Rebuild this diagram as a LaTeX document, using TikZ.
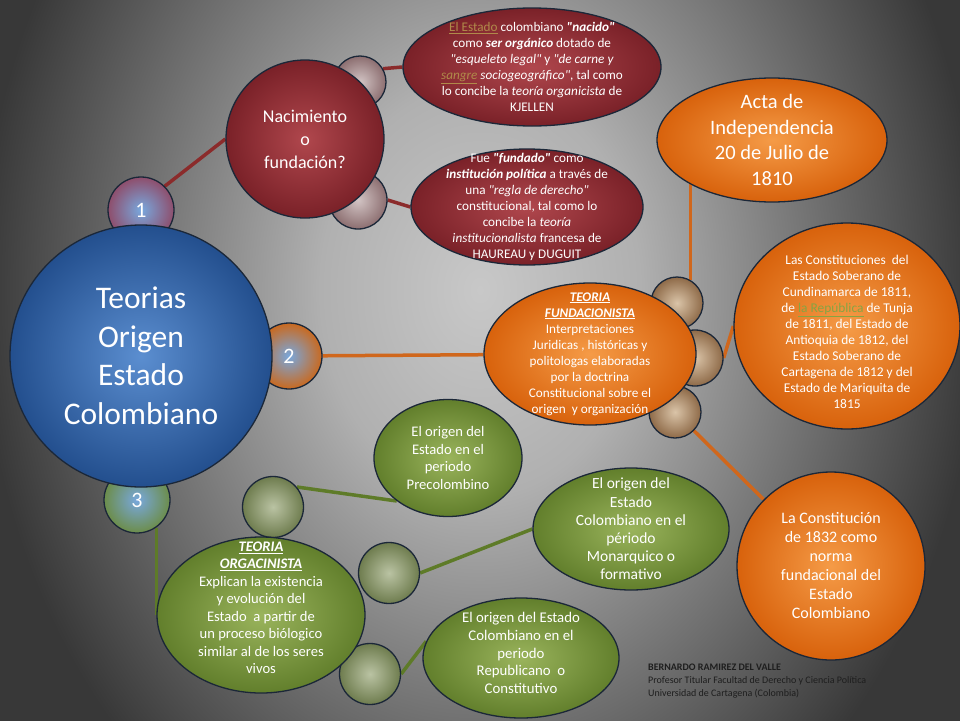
\documentclass[tikz,border=0pt]{standalone}
\usepackage{fontspec}
\setmainfont{Carlito}
\usepackage{tikz}
\usetikzlibrary{shapes.geometric}
\definecolor{edgec}{HTML}{1B2738}
\definecolor{redin}{HTML}{B0474D}
\definecolor{redout}{HTML}{7A2128}
\definecolor{orin}{HTML}{F59B47}
\definecolor{orout}{HTML}{D8620C}
\definecolor{grin}{HTML}{9AB45C}
\definecolor{grout}{HTML}{627F2C}
\definecolor{bluein}{HTML}{5B8ED0}
\definecolor{blueout}{HTML}{234F8E}
\definecolor{numblue}{HTML}{78A8DE}
\definecolor{numred}{HTML}{8E4E6C}
\definecolor{numor}{HTML}{C9691F}
\definecolor{numgr}{HTML}{6C8D4A}
\definecolor{rbin}{HTML}{D2C4C4}
\definecolor{rbout}{HTML}{8C6E70}
\definecolor{fbin}{HTML}{DAC4A8}
\definecolor{fbout}{HTML}{8E6A48}
\definecolor{gbin}{HTML}{BAC3A3}
\definecolor{gbout}{HTML}{6E7C4E}
\definecolor{redline}{HTML}{8B2B2B}
\definecolor{orline}{HTML}{D0671C}
\definecolor{grline}{HTML}{5E7B28}
\definecolor{linkc}{HTML}{B08A4A}
\definecolor{glinkc}{HTML}{86A443}
\definecolor{authorc}{HTML}{1E1E1E}
\definecolor{bgin}{HTML}{C8C8C8}
\definecolor{bgmid}{HTML}{B0B0B0}
\definecolor{bgout}{HTML}{383838}
\pgfdeclareradialshading{backglow}{\pgfpoint{0bp}{0bp}}{color(0bp)=(bgin); color(8bp)=(bgmid); color(25bp)=(bgout); color(50bp)=(bgout)}
\pgfdeclarelayer{bg}
\pgfdeclarelayer{links}
\pgfsetlayers{bg,links,main}
\newcommand{\qt}[1]{\textquotedbl#1\textquotedbl}
\tikzstyle{bubble}=[circle, draw=edgec, line width=1.3pt, inner sep=0pt]
\tikzstyle{oval}=[bubble, ellipse]
\tikzstyle{redshade}=[inner color=redin, outer color=redout]
\tikzstyle{orshade}=[inner color=orin, outer color=orout]
\tikzstyle{grshade}=[inner color=grin, outer color=grout]
\tikzstyle{ball}=[bubble, minimum size=52pt]
\tikzstyle{rball}=[ball, inner color=rbin, outer color=rbout]
\tikzstyle{fball}=[ball, inner color=fbin, outer color=fbout]
\tikzstyle{gball}=[ball, minimum size=61pt, inner color=gbin, outer color=gbout]
\tikzstyle{num}=[bubble, minimum size=66pt, inner color=numblue, text=white, font=\fontsize{22}{26}\selectfont]
\tikzstyle{txt}=[align=center, text=white, inner sep=0pt]
\tikzstyle{link}=[line width=3.5pt]

\begin{document}
\begin{tikzpicture}[x=1pt, y=-1pt]
        \useasboundingbox (0, 0) rectangle (960, 720);
        \begin{pgfonlayer}{bg}
        \begin{scope}
        \clip (-4, -4) rectangle (964, 724);
        \fill[bgout] (-4, -4) rectangle (964, 724);
        \shade[shading=backglow] (480, 290) ellipse (500 and 640);
        \end{scope}
        \end{pgfonlayer}
        \node[num, outer color=numred] (n1) at (141, 210) {1};
        \node[num, outer color=numor] (n2) at (289, 356) {2};
        \node[num, outer color=numgr] (n3) at (137, 500) {3};
        \node[bubble, minimum size=262pt, inner color=bluein, outer color=blueout] (root) at (141, 356) {};
        \node[txt, font=\fontsize{31.5}{38.5}\selectfont] (roott) at (root) {Teorias\\Origen\\Estado\\Colombiano};
        \node[rball] (nb1) at (360, 82) {};
        \node[rball, minimum size=58pt] (nb2) at (358, 200) {};
        \node[bubble, redshade, minimum size=158pt] (naci) at (305, 139) {};
        \node[txt, font=\fontsize{18}{23}\selectfont] (nacit) at (naci) {Nacimiento\\o\\fundación?};
        \node[oval, redshade, minimum width=258pt, minimum height=118pt] (redA) at (532, 67) {};
        \node[txt, font=\fontsize{13.2}{16}\selectfont] (redAt) at (redA) {\textcolor{linkc}{\underline{El Estado}} colombiano \textbf{\textit{\qt{nacido}}}\\como \textbf{\textit{ser orgánico}} dotado de\\\textit{\qt{esqueleto legal}} y \textit{\textquotedbl de carne y}\\\textcolor{linkc}{\underline{\textit{sangre}}} \textit{sociogeográfico\textquotedbl}, tal como\\lo concibe la \textit{teoría organicista} de\\KJELLEN};
        \node[oval, redshade, minimum width=232pt, minimum height=116pt] (redB) at (527, 207) {};
        \node[txt, font=\fontsize{13.2}{16}\selectfont] (redBt) at (redB) {Fue \textbf{\textit{\qt{fundado}}} como\\\textbf{\textit{institución política}} a través de\\una \textit{\qt{regla de derecho}}\\constitucional, tal como lo\\concibe la \textit{teoría}\\\textit{institucionalista} francesa de\\HAUREAU y DUGUIT};
        \node[fball] (fb1) at (677, 303) {};
        \node[fball, minimum size=56pt] (fb2) at (695, 358) {};
        \node[fball] (fb3) at (675, 412) {};
        \node[oval, orshade, minimum width=212pt, minimum height=142pt] (fund) at (590, 354) {};
        \node[txt, font=\fontsize{13.2}{16}\selectfont] (fundt) at (fund) {\textbf{\textit{\underline{TEORIA}}}\\\textbf{\textit{\underline{FUNDACIONISTA}}}\\Interpretaciones\\Juridicas , históricas y\\politologas elaboradas\\por la doctrina\\Constitucional sobre el\\origen~ y organización};
        \node[oval, orshade, minimum width=230pt, minimum height=124pt] (acta) at (772, 140) {};
        \node[txt, font=\fontsize{20.5}{25.5}\selectfont] (actat) at (acta) {Acta de\\Independencia\\20 de Julio de\\1810};
        \node[oval, orshade, minimum width=226pt, minimum height=206pt] (const) at (847, 326) {};
        \node[txt, font=\fontsize{13.4}{16}\selectfont] (constt) at ([yshift=-6pt]const.center) {Las Constituciones~ del\\Estado Soberano de\\Cundinamarca de 1811,\\de \textcolor{glinkc}{\underline{la República}} de Tunja\\de 1811, del Estado de\\Antioquia de 1812, del\\Estado Soberano de\\Cartagena de 1812 y del\\Estado de Mariquita de\\1815};
        \node[bubble, orshade, minimum size=188pt] (c1832) at (831, 566) {};
        \node[txt, font=\fontsize{16}{19}\selectfont] (c1832t) at (c1832) {La Constitución\\de 1832 como\\norma\\fundacional del\\Estado\\Colombiano};
        \node[gball] (gb1) at (273, 507) {};
        \node[gball] (gb2) at (389, 573) {};
        \node[gball] (gb3) at (370, 674) {};
        \node[oval, grshade, minimum width=208pt, minimum height=156pt] (orga) at (261, 615) {};
        \node[txt, font=\fontsize{14.6}{17.5}\selectfont] (orgat) at ([yshift=7pt]orga.center) {\textbf{\textit{\underline{TEORIA}}}\\\textbf{\textit{\underline{ORGACINISTA}}}\\Explican la existencia\\y evolución del\\Estado~ a partir de\\un proceso biólogico\\similar al de los seres\\vivos};
        \node[oval, grshade, minimum width=148pt, minimum height=117pt] (prec) at (448, 458) {};
        \node[txt, font=\fontsize{14.6}{17.5}\selectfont] (prect) at (prec) {El origen del\\Estado en el\\periodo\\Precolombino};
        \node[oval, grshade, minimum width=196pt, minimum height=122pt] (mona) at (631, 529) {};
        \node[txt, font=\fontsize{15.5}{18.2}\selectfont] (monat) at (mona) {El origen del\\Estado\\Colombiano en el\\périodo\\Monarquico o\\formativo};
        \node[oval, grshade, minimum width=196pt, minimum height=120pt] (repu) at (521, 658) {};
        \node[txt, font=\fontsize{14.8}{17.7}\selectfont] (reput) at ([yshift=5pt]repu.center) {El origen del Estado\\Colombiano en el\\periodo\\Republicano~ o\\Constitutivo};
        \node[align=left, anchor=west, inner sep=0pt, text=authorc, font=\fontsize{10}{13}\selectfont] (autor) at (648, 681) {\textbf{BERNARDO RAMIREZ DEL VALLE}\\Profesor Titular Facultad de Derecho y Ciencia Política\\Universidad de Cartagena (Colombia)};
        \begin{pgfonlayer}{links}
        \draw[link, redline] (n1.45) -- (naci.180);
        \draw[link, redline] (nb1.30) -- (redA.west);
        \draw[link, redline] (nb2.east) -- (redB.west);
        \draw[link, orline] (n2) -- (fund);
        \draw[link, orline] (fb1.60) -- (fb1.60 |- acta.center);
        \draw[link, orline] (fb2.east) -- (const.west);
        \draw[link, orline] (fb3) -- (c1832);
        \draw[link, grline] (n3.-55) -- (n3.-55 |- orga.center);
        \draw[link, grline] (gb1.40) -- (prec.220);
        \draw[link, grline] (gb2.east) -- (mona.west);
        \draw[link, grline] (gb3.east) -- (repu.170);
        \end{pgfonlayer}
\end{tikzpicture}
\end{document}
